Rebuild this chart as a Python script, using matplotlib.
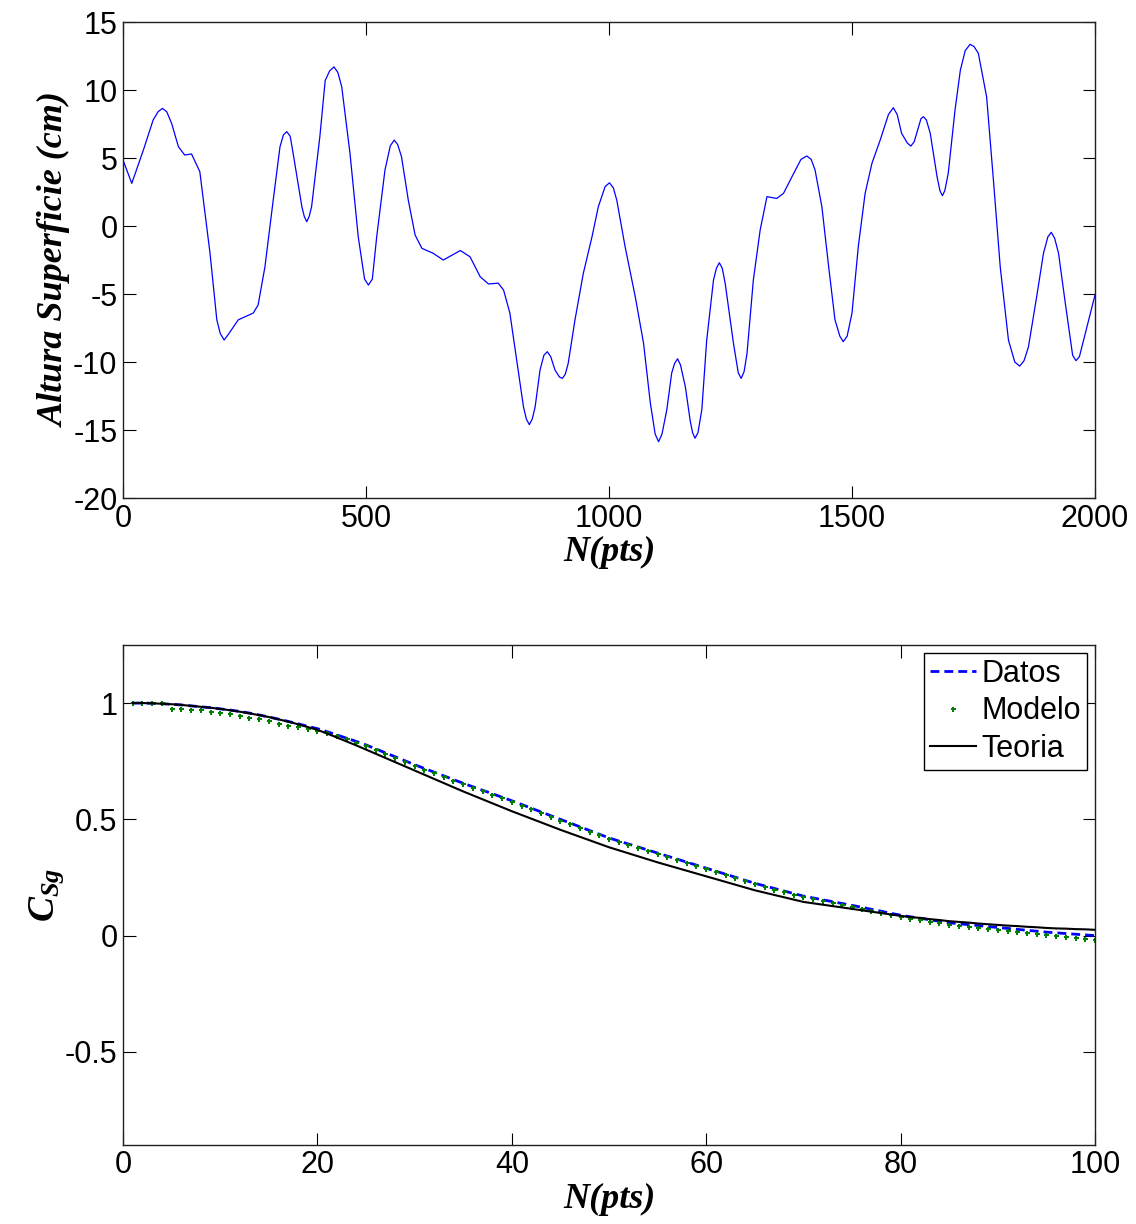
import matplotlib
matplotlib.use("Agg")
import matplotlib.pyplot as plt
import numpy as np

plt.rcParams['font.family'] = ['Liberation Sans', 'DejaVu Sans']
plt.rcParams['axes.unicode_minus'] = False
plt.rcParams['mathtext.fontset'] = 'custom'
plt.rcParams['mathtext.bfit'] = 'Liberation Serif:italic:bold'
plt.rcParams['mathtext.it'] = 'Liberation Serif:italic:bold'
plt.rcParams['mathtext.rm'] = 'Liberation Serif:bold'

# Surface height record (sample index, height in cm)
surf_n = [0, 18, 42, 62, 72, 81, 90, 100, 114, 127, 141, 158, 179, 193, 200,
          208, 218, 237, 251, 268, 278, 292, 309, 323, 330, 337, 344, 350, 368,
          373, 378, 383, 388, 405, 416, 425, 434, 442, 450, 467, 484, 497, 505,
          513, 522, 539, 550, 558, 565, 573, 587, 601, 615, 638, 659, 694, 714,
          735, 752, 772, 783, 796, 810, 824, 830, 836, 842, 848, 858, 866, 873,
          880, 889, 898, 904, 910, 916, 930, 947, 965, 978, 992, 1001, 1009,
          1016, 1033, 1054, 1071, 1085, 1095, 1102, 1109, 1119, 1129, 1135,
          1141, 1147, 1157, 1167, 1172, 1177, 1183, 1191, 1201, 1215, 1221,
          1227, 1233, 1239, 1256, 1266, 1272, 1278, 1284, 1297, 1311, 1325,
          1345, 1359, 1380, 1395, 1407, 1416, 1424, 1438, 1452, 1465, 1475,
          1482, 1490, 1500, 1513, 1527, 1541, 1558, 1575, 1585, 1593, 1602,
          1614, 1621, 1628, 1637, 1642, 1647, 1653, 1661, 1675, 1681, 1686,
          1691, 1698, 1712, 1723, 1733, 1743, 1751, 1760, 1777, 1791, 1805,
          1822, 1835, 1845, 1854, 1863, 1880, 1894, 1903, 1910, 1917, 1925,
          1939, 1954, 1961, 1968, 1980, 2000]
surf_h = [4.85, 3.14, 5.6, 7.8, 8.4, 8.65, 8.4, 7.55, 5.83, 5.22, 5.3, 4.0,
          -2.0, -6.9, -7.9, -8.38, -7.9, -6.9, -6.67, -6.4, -5.8, -3.0, 1.9,
          5.83, 6.7, 6.94, 6.6, 5.35, 1.42, 0.7, 0.32, 0.7, 1.42, 6.57, 10.7,
          11.4, 11.7, 11.3, 10.24, 5.35, -0.79, -3.9, -4.34, -3.9, -0.79, 4.12,
          5.9, 6.32, 6.0, 5.1, 1.9, -0.66, -1.64, -2.0, -2.5, -1.8, -2.26,
          -3.73, -4.26, -4.2, -4.7, -6.4, -9.85, -13.3, -14.2, -14.6, -14.2,
          -13.3, -10.6, -9.5, -9.24, -9.6, -10.6, -11.1, -11.2, -10.9, -10.1,
          -6.9, -3.5, -0.79, 1.42, 2.9, 3.18, 2.8, 1.9, -1.5, -5.2, -8.6,
          -13.0, -15.3, -15.86, -15.3, -13.5, -10.8, -10.1, -9.76, -10.2,
          -11.8, -14.3, -15.2, -15.6, -15.2, -13.5, -8.4, -3.97, -3.1, -2.7,
          -3.1, -4.2, -8.6, -10.8, -11.2, -10.7, -9.36, -3.97, -0.3, 2.16,
          2.03, 2.4, 3.87, 4.9, 5.15, 4.9, 4.12, 1.42, -3.0, -6.9, -8.1, -8.5,
          -8.1, -6.4, -1.5, 2.4, 4.61, 6.32, 8.2, 8.7, 8.2, 6.82, 6.1, 5.88,
          6.2, 7.3, 7.9, 8.04, 7.8, 6.82, 3.63, 2.6, 2.23, 2.6, 3.87, 8.53,
          11.47, 12.9, 13.36, 13.2, 12.7, 9.5, 3.38, -3.0, -8.4, -10.0, -10.3,
          -9.9, -8.9, -5.2, -2.0, -0.8, -0.46, -0.9, -2.0, -5.7, -9.5, -9.9,
          -9.6, -7.9, -5.07]

# Correlation curves versus lag
lag = list(range(1, 101))
datos = [1.000, 1.000, 0.999, 0.997, 0.995, 0.992, 0.988, 0.984, 0.980, 0.975,
         0.970, 0.964, 0.957, 0.949, 0.940, 0.931, 0.921, 0.911, 0.900, 0.890,
         0.877, 0.863, 0.849, 0.835, 0.820, 0.803, 0.786, 0.769, 0.752, 0.735,
         0.719, 0.703, 0.687, 0.671, 0.655, 0.640, 0.625, 0.610, 0.595, 0.580,
         0.564, 0.548, 0.532, 0.516, 0.500, 0.484, 0.468, 0.452, 0.436, 0.420,
         0.407, 0.394, 0.381, 0.368, 0.355, 0.342, 0.329, 0.316, 0.303, 0.290,
         0.277, 0.264, 0.251, 0.238, 0.225, 0.214, 0.203, 0.192, 0.181, 0.170,
         0.162, 0.154, 0.146, 0.138, 0.130, 0.122, 0.113, 0.105, 0.096, 0.088,
         0.081, 0.075, 0.068, 0.062, 0.055, 0.051, 0.047, 0.043, 0.039, 0.035,
         0.031, 0.027, 0.023, 0.019, 0.015, 0.012, 0.009, 0.006, 0.003, 0.000]
modelo = [1.000, 1.000, 1.000, 1.000, 0.976, 0.976, 0.971, 0.969, 0.963, 0.956,
          0.951, 0.946, 0.937, 0.933, 0.921, 0.912, 0.903, 0.895, 0.888, 0.880,
          0.871, 0.858, 0.844, 0.830, 0.815, 0.798, 0.781, 0.764, 0.747, 0.730,
          0.714, 0.698, 0.682, 0.666, 0.650, 0.635, 0.620, 0.605, 0.590, 0.575,
          0.559, 0.543, 0.527, 0.511, 0.495, 0.479, 0.463, 0.447, 0.431, 0.415,
          0.402, 0.389, 0.376, 0.363, 0.350, 0.337, 0.324, 0.311, 0.298, 0.285,
          0.272, 0.259, 0.246, 0.233, 0.220, 0.209, 0.198, 0.187, 0.176, 0.165,
          0.157, 0.148, 0.140, 0.131, 0.123, 0.114, 0.106, 0.097, 0.089, 0.080,
          0.073, 0.067, 0.060, 0.054, 0.047, 0.043, 0.038, 0.033, 0.029, 0.024,
          0.020, 0.016, 0.012, 0.008, 0.004, 0.000, -0.004, -0.009, -0.013, -0.017]
teoria = [1.000, 1.000, 0.999, 0.997, 0.995, 0.992, 0.988, 0.984, 0.980, 0.975,
          0.969, 0.963, 0.956, 0.948, 0.940, 0.930, 0.920, 0.909, 0.897, 0.885,
          0.869, 0.852, 0.835, 0.818, 0.800, 0.782, 0.764, 0.746, 0.728, 0.710,
          0.692, 0.674, 0.656, 0.638, 0.620, 0.603, 0.586, 0.569, 0.552, 0.535,
          0.519, 0.503, 0.487, 0.471, 0.455, 0.440, 0.425, 0.410, 0.395, 0.380,
          0.367, 0.354, 0.341, 0.328, 0.315, 0.303, 0.291, 0.279, 0.267, 0.255,
          0.243, 0.231, 0.219, 0.207, 0.195, 0.185, 0.175, 0.165, 0.155, 0.145,
          0.139, 0.133, 0.127, 0.121, 0.115, 0.109, 0.103, 0.097, 0.091, 0.085,
          0.080, 0.076, 0.071, 0.067, 0.062, 0.059, 0.056, 0.052, 0.049, 0.046,
          0.043, 0.041, 0.038, 0.036, 0.033, 0.031, 0.030, 0.028, 0.027, 0.025]

top_xticks = [0, 500, 1000, 1500, 2000]
top_yticks = [-20, -15, -10, -5, 0, 5, 10, 15]
bot_xticks = [0, 20, 40, 60, 80, 100]
bot_yticks = [-0.5, 0, 0.5, 1]

label_font = dict(family='Liberation Serif', weight='bold', style='italic', size=26)
tick_size = 22

fig = plt.figure(figsize=(11.36, 12.24), dpi=100)
ax1 = fig.add_axes([0.1083, 0.5931, 0.8556, 0.3889])
ax2 = fig.add_axes([0.1083, 0.0646, 0.8556, 0.4085])


def style_axes(ax):
    ax.tick_params(direction='in', length=9, width=0.8, top=True, right=True,
                   labelsize=tick_size, pad=4)
    for s in ax.spines.values():
        s.set_linewidth(1.0)
        s.set_color('#202020')


# Upper panel: surface elevation
ax1.plot(surf_n, surf_h, color='#0000ff', lw=0.9)
ax1.set_xlim(0, 2000)
ax1.set_ylim(-20, 15)
ax1.set_xticks(top_xticks)
ax1.set_yticks(top_yticks)
style_axes(ax1)
ax1.set_xlabel('N(pts)', fontdict=label_font, labelpad=2)
ax1.set_ylabel('Altura Superficie (cm)', fontdict=label_font, labelpad=1)

# Lower panel: correlation functions
ax2.plot(lag, datos, color='#0000ff', lw=2.0, linestyle=(0, (3.2, 1.8)), label='Datos')
ax2.plot(lag, modelo, color='#008000', linestyle='none', marker='P',
         markersize=3.6, markeredgewidth=0, label='Modelo')
ax2.plot(lag, teoria, color='black', lw=1.5, label='Teoria')
ax2.set_xlim(0, 100)
ax2.set_ylim(-0.9, 1.25)
ax2.set_xticks(bot_xticks)
ax2.set_yticks(bot_yticks)
ax2.set_yticklabels(['-0.5', '0', '0.5', '1'])
style_axes(ax2)
ax2.set_xlabel('N(pts)', fontdict=label_font, labelpad=2)
ax2.set_ylabel(r'$\mathbfit{C}_{\mathbfit{Sg}}$', fontsize=27, labelpad=-1)

leg = ax2.legend(loc='upper right', fontsize=22, frameon=True, fancybox=False,
                 edgecolor='black', framealpha=1, borderaxespad=0.25,
                 handlelength=1.5, handletextpad=0.2, labelspacing=0.25,
                 borderpad=0.2, markerscale=1.0)
leg.get_frame().set_linewidth(1.0)

fig.savefig('out.png', dpi=100)
